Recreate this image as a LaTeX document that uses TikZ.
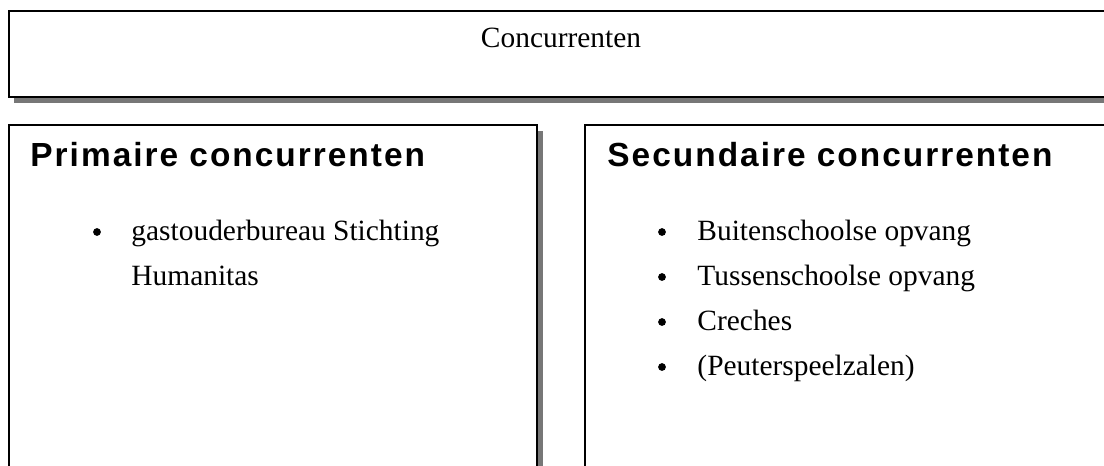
\documentclass[tikz,border=0pt]{standalone}
\usepackage{fontspec}
\setmainfont{Liberation Serif}
\newfontfamily\headfont[LetterSpace=6]{Liberation Sans}
\usetikzlibrary{positioning}
\definecolor{shadowgray}{RGB}{119,119,119}

\begin{document}
\begin{tikzpicture}[x=0.425pt, y=-0.425pt, font=\fontsize{12.5}{15}\selectfont,
  panel/.style={draw, line width=0.85pt, fill=white},
  panelshadow/.style={fill=shadowgray},
  heading/.style={anchor=base west, inner sep=0pt, font=\headfont\bfseries\fontsize{14.2}{17}\selectfont},
  item/.style={anchor=base west, inner sep=0pt},
  dot/.style={circle, fill, inner sep=0pt, minimum size=3.3pt}]
  \useasboundingbox (0,0) rectangle (1104,465);
  \clip (0,0) rectangle (1104,465);
  % shadows
  \fill[panelshadow] (14,16) rectangle (1120,103);
  \fill[panelshadow] (15,131) rectangle (543,480);
  % panels
  \draw[panel] (9,11) rectangle (1120,97);
  \draw[panel] (9,125) rectangle (537,480);
  \draw[panel] (585,125) rectangle (1120,480);

  \node[anchor=base, inner sep=0pt] (title) at (561,47) {Concurrenten};

  \node[heading] (prim) at (30,166) {Primaire concurrenten};
  \node[heading] (sec) at (607,166) {Secundaire concurrenten};

  % primaire
  \node[dot] (p1dot) at (97,232) {};
  \node[item] (p1) at (131,240) {gastouderbureau Stichting};
  \node[item] (p1b) [below=19.125pt of p1.base west, anchor=base west] {Humanitas};

  % secundaire
  \node[dot] (s1dot) at (662,232) {};
  \node[item] (s1) at (697,240) {Buitenschoolse opvang};
  \node[dot] (s2dot) at (662,277) {};
  \node[item] (s2) at (697,285) {Tussenschoolse opvang};
  \node[dot] (s3dot) at (662,322) {};
  \node[item] (s3) at (697,330) {Creches};
  \node[dot] (s4dot) at (662,367) {};
  \node[item] (s4) at (697,375) {(Peuterspeelzalen)};
\end{tikzpicture}
\end{document}
